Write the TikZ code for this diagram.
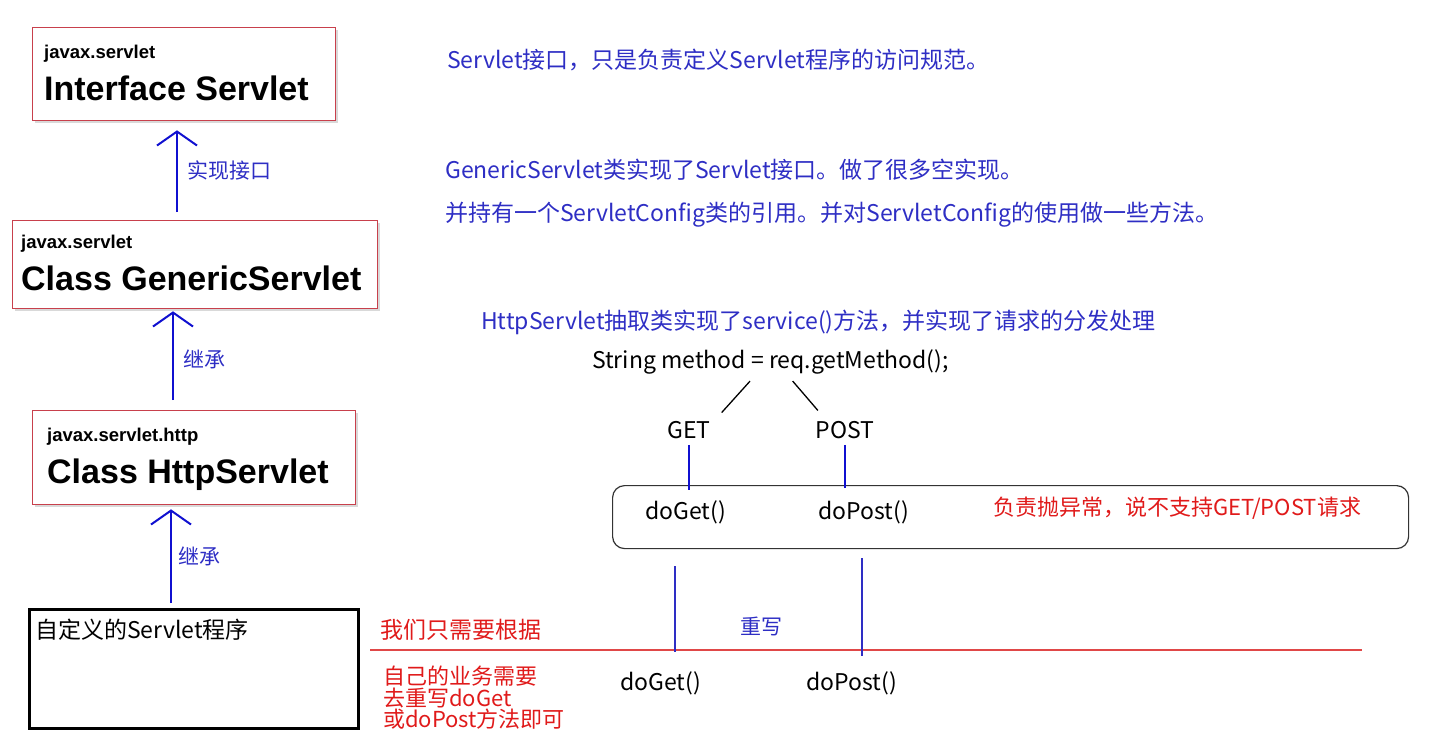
\documentclass[tikz,border=0pt]{standalone}
\usepackage{fontspec}
\setmainfont{Liberation Sans}
\newfontfamily\cjk{Noto Sans CJK SC}
\usepackage{tikz}
\usetikzlibrary{arrows.meta,positioning,calc,shadows}
\definecolor{boxred}{HTML}{C8404C}
\definecolor{notablue}{HTML}{2E2EC4}
\definecolor{arrowblue}{HTML}{1010D0}
\definecolor{notared}{HTML}{E01A1A}
\definecolor{linered}{HTML}{E04848}

\begin{document}
\begin{tikzpicture}[x=1pt,y=-1pt,
    clsbox/.style = {draw=boxred,line width=1.3pt,fill=white,inner sep=0pt,anchor=north west,
                     drop shadow={shadow xshift=2pt,shadow yshift=-2pt,opacity=.3}},
    pkg/.style    = {font=\fontsize{18.5}{20}\selectfont\bfseries,anchor=base west,inner sep=0pt},
    cls/.style    = {font=\fontsize{34}{36}\selectfont\bfseries,anchor=base west,inner sep=0pt},
    herit/.style  = {draw=arrowblue,line width=2pt,
                     -{Straight Barb[length=14pt,width=40pt,line width=2pt]}},
    herlbl/.style = {font=\cjk\fontsize{21}{23}\selectfont,text=notablue,anchor=west,
                     inner sep=0pt,xshift=9pt},
    note/.style   = {font=\cjk\fontsize{23}{25}\selectfont,anchor=west,inner sep=0pt},
    code/.style   = {font=\cjk\fontsize{23}{25}\selectfont,inner sep=0pt},
    tree/.style   = {line width=1.3pt,black},
    pick/.style   = {line width=2.5pt,arrowblue},
    over/.style   = {line width=1.5pt,notablue},
  ]
  \useasboundingbox (0,0) rectangle (1436,740);

  % Hiérarchie des classes
  \node[clsbox,minimum width=303,minimum height=93] (iface) at (32,27) {};
  \node[pkg] (ifacepkg)  at (44,58)  {javax.servlet};
  \node[cls] (ifacename) at (44,100) {Interface Servlet};

  \node[clsbox,minimum width=365,minimum height=88] (generic) at (12,220) {};
  \node[pkg] (genericpkg)  at (21,248) {javax.servlet};
  \node[cls] (genericname) at (21,290) {Class GenericServlet};

  \node[clsbox,minimum width=323,minimum height=94] (httpsv) at (32,410) {};
  \node[pkg] (httppkg)  at (47,441) {javax.servlet.http};
  \node[cls] (httpname) at (47,483) {Class HttpServlet};

  \node[draw=black,line width=3pt,anchor=north west,minimum width=329,minimum height=119,
        inner sep=0pt] (custom) at (28,608) {};
  \node[note] (customname) at (35,630) {自定义的Servlet程序};

  \draw[herit,shorten <=8pt,shorten >=9pt] (generic.north -| 177,0) -- (iface.south -| 177,0)
    node[herlbl,midway] {实现接口};
  \draw[herit,shorten <=10pt,shorten >=2pt] (httpsv.north -| 173,0) -- (generic.south -| 173,0)
    node[herlbl,midway] {继承};
  \draw[herit,shorten <=5pt,shorten >=4pt] (custom.north -| 171,0) -- (httpsv.south -| 171,0)
    node[herlbl,midway,xshift=-3pt] {继承};

  % Remarques
  \node[note,text=notablue] (n1) at (447,60)  {Servlet接口，只是负责定义Servlet程序的访问规范。};
  \node[note,text=notablue] (n2) at (445,170) {GenericServlet类实现了Servlet接口。做了很多空实现。};
  \node[note,text=notablue] (n3) at (445,215) {并持有一个ServletConfig类的引用。并对ServletConfig的使用做一些方法。};
  \node[note,text=notablue] (n4) at (481,322) {HttpServlet抽取类实现了service()方法，并实现了请求的分发处理};

  % Aiguillage de service()
  \node[code,anchor=west] (meth) at (592,362) {String method = req.getMethod();};
  \node[code] (get)  at (689,430) {GET};
  \node[code] (post) at (845,430) {POST};
  \draw[tree,shorten <=9pt,shorten >=11.5pt] (meth.south -| 756,0) -- (get.north -| 714,0);
  \draw[tree,shorten <=8.7pt,shorten >=14pt] (meth.south -| 787,0) -- (post.north -| 827,0);

  \node[draw=black!80,line width=1.2pt,rounded corners=12pt,anchor=north west,
        minimum width=796,minimum height=63,inner sep=0pt] (rbox) at (612,485) {};
  \node[code,anchor=west] (inget)  at (645,512) {doGet()};
  \node[code,anchor=west] (inpost) at (818,512) {doPost()};
  \node[note,text=notared,font=\cjk\fontsize{22}{24}\selectfont] (throw) at (993,508)
    {负责抛异常，说不支持GET/POST请求};
  \draw[pick,shorten <=6pt,shorten >=-5pt] (get.south) -- (get.south |- rbox.north);
  \draw[pick,shorten <=6pt,shorten >=-3pt] (post.south) -- (post.south |- rbox.north);

  % Redéfinition dans la classe utilisateur
  \coordinate (sepL) at (370,650);
  \coordinate (sepR) at (1362,650);
  \draw[line width=1.3pt,linered] (sepL) -- (sepR);
  \draw[over,shorten <=17pt,shorten >=-2pt] (rbox.south -| 675,0) -- (sepL -| 675,0);
  \draw[over,shorten <=9pt,shorten >=-6pt]  (rbox.south -| 862,0) -- (sepL -| 862,0);

  \node[note,text=notared] (only) at (380,630) {我们只需要根据};
  \node[note,text=notablue,font=\cjk\fontsize{21}{23}\selectfont] (override) at (740,626) {重写};
  \node[note,text=notared,align=left,anchor=north west,
        font=\cjk\fontsize{22}{21.5}\selectfont] (own) at (383,666)
    {自己的业务需要\\去重写doGet\\或doPost方法即可};
  \node[code,anchor=west] (outget)  at (620,683) {doGet()};
  \node[code,anchor=west] (outpost) at (806,683) {doPost()};
\end{tikzpicture}
\end{document}
